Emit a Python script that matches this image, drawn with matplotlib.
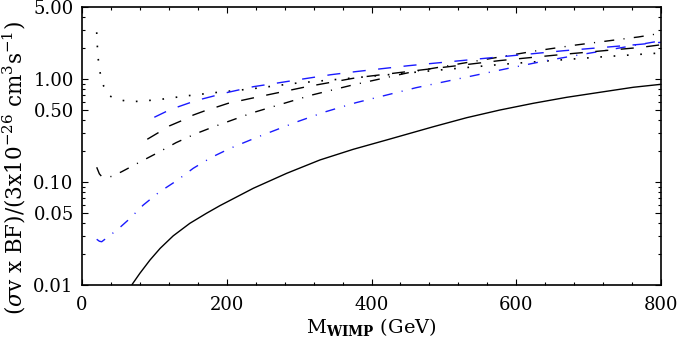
import matplotlib
matplotlib.use("Agg")
import matplotlib.pyplot as plt
from matplotlib.ticker import FixedLocator, NullFormatter, FixedFormatter

# ---- data ----
dot_x = [20.3, 21.0, 22.0, 23.5, 26.0, 30.0, 37.0, 50.0, 67.0, 85.0, 113, 143, 188, 233, 294, 369, 581, 718, 800]
dot_y = [2.84, 2.20, 1.70, 1.30, 1.07, 0.85, 0.69, 0.63, 0.602, 0.611, 0.64, 0.684, 0.743, 0.80, 0.908, 1.016, 1.39, 1.64, 1.79]

kdd_x = [20.3, 24, 27.2, 41, 55, 79, 105, 130, 156, 182, 236, 318, 374, 458, 626, 683, 769, 800]
kdd_y = [0.139, 0.12, 0.113, 0.113, 0.126, 0.155, 0.193, 0.241, 0.292, 0.344, 0.471, 0.70, 0.875, 1.18, 1.87, 2.14, 2.56, 2.78]

bdd_x = [20.3, 24, 27.2, 42.4, 53.5, 65.4, 84.7, 106.4, 130.8, 153.8, 179.2, 204.5, 243.6, 297.5, 337, 378.6, 461.5, 587, 642, 686, 713, 800]
bdd_y = [0.0278, 0.0266, 0.0263, 0.0318, 0.0368, 0.0437, 0.0598, 0.0795, 0.103, 0.136, 0.174, 0.212, 0.275, 0.385, 0.482, 0.589, 0.823, 1.26, 1.51, 1.71, 1.84, 2.35]

kda_x = [90.2, 105.4, 120.6, 137.8, 153.8, 170, 187.5, 202, 240.4, 310.5, 379.5, 577.5, 667, 773, 800]
kda_y = [0.26, 0.301, 0.35, 0.394, 0.447, 0.492, 0.538, 0.581, 0.664, 0.842, 1.03, 1.51, 1.74, 2.03, 2.15]

bda_x = [99.9, 116, 132.2, 149.2, 166.2, 183.8, 202, 236.7, 272.6, 308, 343.6, 378.6, 451, 557, 665, 771, 800]
bda_y = [0.425, 0.482, 0.535, 0.589, 0.640, 0.689, 0.743, 0.842, 0.92, 1.007, 1.10, 1.18, 1.346, 1.588, 1.88, 2.17, 2.27]

sol_x = [68.7, 80, 94, 108, 126, 149, 172, 190.7, 236.7, 282.8, 328.8, 374.8, 421, 485.4, 531.5, 577.5, 623.6, 669.7, 715.7, 761.7, 800]
sol_y = [0.0100, 0.0130, 0.0175, 0.0227, 0.0300, 0.0397, 0.0497, 0.0590, 0.0869, 0.1214, 0.1637, 0.2077, 0.256, 0.344, 0.421, 0.500, 0.581, 0.664, 0.743, 0.831, 0.888]

xticks = [0, 200, 400, 600, 800]
yticks = [0.01, 0.05, 0.10, 0.50, 1.00, 5.00]
ytick_labels = ["0.01", "0.05", "0.10", "0.50", "1.00", "5.00"]

plt.rcParams['font.family'] = ['DejaVu Serif']
plt.rcParams['mathtext.fontset'] = 'dejavuserif'

fig = plt.figure(figsize=(6.79, 3.45), dpi=100)
ax = fig.add_axes([82/679, 60/345, 579/679, 278/345])

lw = 1.0
blue = '#1a1aff'
ax.plot(sol_x, sol_y, color='black', lw=lw, solid_capstyle='butt')
ax.plot(dot_x, dot_y, color='black', lw=1.2, linestyle=(0, (1.0, 7.0)))
ax.plot(kdd_x, kdd_y, color='black', lw=lw, linestyle=(0, (7.2, 6.7, 0.8, 6.7)))
ax.plot(bdd_x, bdd_y, color=blue, lw=lw, linestyle=(0, (7.2, 6.7, 0.8, 6.7)))
ax.plot(kda_x, kda_y, color='black', lw=lw, linestyle=(0, (9.4, 9.0)))
ax.plot(bda_x, bda_y, color=blue, lw=lw, linestyle=(0, (9.4, 9.0)))

ax.set_yscale('log')
ax.set_xlim(0, 800)
ax.set_ylim(0.01, 5.0)

ax.xaxis.set_major_locator(FixedLocator(xticks))
ax.xaxis.set_minor_locator(FixedLocator([v for v in range(0, 801, 40) if v % 200 != 0]))
ax.yaxis.set_major_locator(FixedLocator(yticks))
ax.yaxis.set_major_formatter(FixedFormatter(ytick_labels))
minor_y = []
for dec in [0.01, 0.1, 1.0]:
    for m in [2, 3, 4, 6, 7, 8, 9]:
        v = dec * m
        if v < 5.0:
            minor_y.append(v)
ax.yaxis.set_minor_locator(FixedLocator(minor_y))
ax.yaxis.set_minor_formatter(NullFormatter())

ax.tick_params(which='both', direction='in', top=True, right=True, labelsize=13, width=0.8)
ax.tick_params(which='major', length=4.5)
ax.tick_params(axis='x', which='major', pad=8)
ax.tick_params(axis='y', which='major', pad=6)
ax.tick_params(which='minor', length=2.5)
for s in ax.spines.values():
    s.set_linewidth(1.2)

ax.set_xlabel(r"M$_{\mathbf{WIMP}}$ (GeV)", fontsize=14, labelpad=1)
fig.text(14/679, 1 - 168/345, r"($\sigma$v x BF)/(3x10$^{-26}$ cm$^{3}$s$^{-1}$)",
         rotation=90, ha='center', va='center', fontsize=15.5)

fig.savefig("out.png", dpi=100)
